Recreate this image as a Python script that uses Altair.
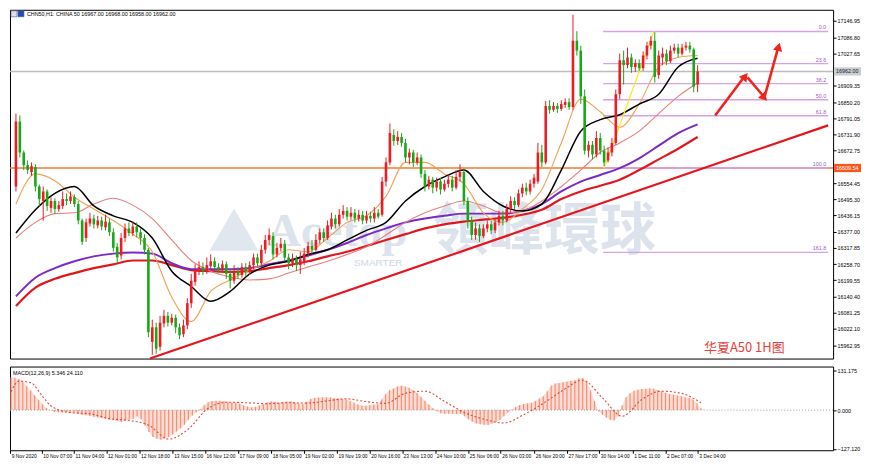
import altair as alt
import pandas as pd

# ---------------- candle data (H1, CHINA 50) ----------------
opens = [16542,16779,16666,16620,16595,16613,16542,16489,16524,16464,
         16489,16460,16471,16496,16489,16503,16478,16418,16354,16407,
         16425,16400,16418,16393,16411,16375,16322,16290,16354,16389,
         16372,16396,16375,16354,16311,15975,16028,15957,16042,16070,
         16045,16063,16028,16003,16035,16116,16194,16230,16248,16233,
         16251,16269,16248,16240,16258,16223,16198,16233,16219,16248,
         16233,16255,16283,16262,16311,16347,16361,16294,16318,16333,
         16283,16262,16279,16255,16269,16297,16325,16311,16347,16375,
         16354,16396,16425,16404,16439,16453,16432,16446,16425,16439,
         16418,16435,16425,16446,16439,16560,16630,16730,16708,16723,
         16701,16648,16666,16630,16648,16588,16542,16567,16538,16560,
         16531,16552,16567,16538,16577,16595,16489,16418,16365,16389,
         16361,16389,16404,16382,16411,16435,16418,16460,16489,16474,
         16517,16538,16524,16552,16560,16666,16630,16836,16822,16836,
         16825,16840,16850,16832,17074,17038,16871,16673,16694,16659,
         16719,16673,16637,16666,16701,16879,17003,16985,17013,16978,
         16992,16974,17020,17056,17074,16949,17013,17027,16999,17038,
         17049,17027,17049,17056,17042,16914]
highs = [16808,16801,16673,16637,16630,16623,16549,16542,16531,16503,
         16499,16489,16524,16517,16524,16513,16489,16425,16425,16446,
         16439,16435,16432,16439,16425,16389,16336,16372,16407,16411,
         16414,16411,16389,16368,16318,16056,16045,16070,16092,16084,
         16077,16074,16042,16056,16134,16223,16258,16269,16265,16283,
         16294,16283,16262,16272,16269,16240,16255,16248,16262,16262,
         16269,16297,16297,16329,16365,16389,16375,16336,16354,16347,
         16297,16297,16290,16304,16318,16340,16347,16368,16389,16389,
         16418,16446,16439,16460,16474,16467,16467,16460,16457,16453,
         16453,16450,16467,16460,16577,16648,16772,16751,16744,16737,
         16716,16680,16676,16666,16659,16602,16581,16577,16574,16574,
         16567,16584,16581,16602,16623,16602,16503,16432,16411,16404,
         16404,16418,16418,16425,16453,16453,16478,16506,16503,16531,
         16552,16556,16567,16588,16701,16694,16854,16857,16850,16847,
         16857,16864,16864,17169,17109,17056,16896,16708,16708,16744,
         16737,16691,16684,16719,16896,17027,17038,17049,17027,17006,
         17006,17035,17070,17091,17105,17038,17049,17042,17056,17063,
         17063,17063,17070,17070,17049,16985]
lows = [16524,16648,16602,16588,16581,16524,16471,16418,16453,16446,
        16443,16450,16460,16474,16478,16467,16404,16329,16340,16396,
        16389,16389,16382,16382,16361,16304,16265,16276,16340,16361,
        16361,16357,16329,16294,15992,15928,15932,15943,16028,16031,
        16035,16006,15985,15992,16021,16099,16180,16219,16219,16223,
        16240,16233,16226,16230,16205,16170,16187,16205,16209,16216,
        16219,16240,16248,16255,16297,16329,16276,16283,16304,16269,
        16240,16248,16233,16223,16255,16283,16297,16304,16333,16340,
        16347,16386,16389,16396,16425,16418,16421,16411,16414,16404,
        16407,16411,16411,16425,16432,16542,16620,16691,16694,16687,
        16630,16623,16613,16620,16574,16524,16531,16517,16524,16513,
        16524,16538,16524,16531,16560,16474,16389,16347,16347,16340,
        16354,16375,16368,16372,16400,16400,16411,16446,16460,16467,
        16503,16510,16513,16538,16552,16613,16623,16808,16815,16811,
        16818,16829,16822,16822,17020,16843,16659,16648,16641,16648,
        16659,16616,16630,16652,16694,16861,16914,16974,16957,16960,
        16964,16964,17006,17042,16921,16935,16985,16985,16992,17027,
        17013,17020,17038,17031,16886,16886]
closes = [16779,16666,16620,16602,16616,16542,16496,16524,16471,16489,
          16460,16474,16496,16489,16506,16478,16418,16340,16411,16425,
          16404,16418,16396,16414,16375,16318,16283,16354,16389,16372,
          16396,16375,16354,16311,16010,16028,15950,16045,16070,16045,
          16063,16028,15999,16035,16116,16198,16233,16248,16233,16255,
          16269,16248,16240,16258,16223,16198,16233,16219,16248,16233,
          16255,16283,16262,16311,16347,16365,16294,16318,16333,16283,
          16262,16279,16255,16276,16297,16325,16311,16347,16375,16354,
          16400,16425,16404,16439,16453,16432,16446,16425,16439,16418,
          16435,16425,16446,16432,16560,16630,16737,16708,16723,16701,
          16648,16666,16630,16648,16588,16542,16567,16538,16560,16531,
          16552,16567,16538,16577,16595,16489,16418,16365,16389,16361,
          16389,16404,16382,16411,16435,16418,16460,16489,16474,16517,
          16538,16524,16552,16574,16666,16630,16836,16822,16836,16825,
          16843,16850,16832,17074,17038,16871,16673,16694,16659,16719,
          16673,16630,16666,16701,16879,17003,16985,17013,16978,16992,
          16974,17020,17056,17074,16942,17020,17027,16999,17038,17049,
          17027,17049,17056,17042,16907,16962]

# ---------------- moving averages (sampled every 5 bars) ----------------
ma_idx = list(range(0, 176, 5))
ma_black = [16372,16457,16517,16542,16471,16435,16411,16354,16233,16177,
            16123,16159,16223,16255,16269,16294,16311,16347,16382,16411,
            16489,16542,16577,16602,16524,16471,16453,16478,16602,16744,
            16786,16804,16843,16879,16978,17010]
ma_orange = [16478,16588,16563,16503,16460,16418,16368,16304,16138,16049,
             16159,16201,16237,16269,16311,16304,16354,16411,16435,16506,
             16630,16630,16588,16552,16446,16411,16460,16531,16701,16861,
             16815,16758,16843,16978,17013,17020]
ma_pink = [16354,16411,16443,16446,16478,16499,16474,16425,16347,16272,
           16233,16212,16201,16205,16226,16248,16269,16294,16322,16365,
           16411,16446,16471,16489,16471,16446,16453,16489,16542,16602,
           16666,16701,16744,16808,16871,16921]
ma_purple = [16141,16209,16244,16269,16287,16297,16301,16297,16262,16240,
             16240,16240,16244,16258,16272,16290,16311,16336,16365,16389,
             16411,16425,16435,16443,16443,16443,16453,16478,16524,16560,
             16584,16609,16645,16691,16737,16769]
ma_red = [16106,16173,16205,16226,16244,16258,16272,16272,16255,16237,
          16233,16230,16233,16244,16255,16269,16287,16304,16325,16347,
          16368,16389,16404,16414,16421,16428,16439,16457,16496,16524,
          16545,16567,16602,16641,16680,16723]

# ---------------- MACD ----------------
macd_hist = [108,106,102,93,78,64,49,34,19,7,
             0,-6,-7,-8,-7,-8,-8,-12,-15,-17,
             -19,-22,-24,-26,-28,-31,-33,-36,-39,-35,
             -31,-28,-20,-30,-50,-72,-88,-94,-97,-93,
             -88,-80,-70,-60,-48,-32,-18,-7,4,16,
             26,30,31,31,29,27,25,24,21,16,
             12,9,11,15,19,25,29,27,24,26,
             28,29,25,21,19,27,36,40,41,42,
             42,41,39,38,36,35,30,24,18,14,
             14,16,18,19,35,52,65,71,77,80,
             77,73,65,56,44,30,18,6,-4,-10,
             -12,-12,-12,-13,-12,-20,-30,-38,-44,-46,
             -48,-49,-44,-38,-32,-20,-8,2,10,17,
             20,22,24,30,38,45,62,80,87,89,
             91,94,96,98,104,105,92,65,30,-4,
             -15,-24,-32,-34,-20,15,42,55,63,67,
             69,70,71,70,66,62,57,53,50,48,
             45,42,40,35,22,5.346]
sig_idx = [0,2,5,8,10,15,20,25,30,35,40,45,50,55,60,65,70,75,80,85,90,95,
           100,105,110,115,120,125,130,135,140,145,150,155,160,165,170,175]
sig_val = [60,95,90,45,15,-8,-12,-28,-34,-50,-95,-62,6,26,24,21,24,23,30,37,28,22,
           55,62,28,-8,-30,-42,-15,22,65,98,40,-20,35,62,55,24.11]

# ---------------- axes ----------------
price_ticks = [17146.95,17086.80,17027.65,16909.35,16850.20,16791.05,16731.90,
               16672.75,16554.45,16495.30,16436.15,16377.00,16317.85,16258.70,
               16199.55,16140.40,16081.25,16022.10,15962.95]
macd_ticks = [131.175, 0.0, -127.12]
time_pos = [-0.2,7.8,16,24.2,32.6,41,49.2,57.6,66,74.2,82.7,91,99.2,107.6,116,
            124.2,132.7,141,149.2,157.7,166,174.2]
time_lbl = ["9 Nov 2020","10 Nov 07:00","11 Nov 04:00","12 Nov 01:00","12 Nov 18:00",
            "13 Nov 15:00","16 Nov 12:00","17 Nov 09:00","18 Nov 05:00","19 Nov 02:00",
            "19 Nov 19:00","20 Nov 16:00","23 Nov 13:00","24 Nov 10:00","25 Nov 06:00",
            "26 Nov 03:00","26 Nov 20:00","27 Nov 17:00","30 Nov 14:00","1 Dec 11:00",
            "2 Dec 07:00","3 Dec 04:00"]

# ---------------- annotations ----------------
fib_names = ["0.0","23.6","38.2","50.0","61.8","100.0","161.8"]
fib_prices = [17108.0,16990.4,16917.6,16858.8,16800.0,16609.5,16301.5]
fib_start, x_end = 150.75, 208.5
yellow_i = [151, 163.75]
yellow_p = [16609.5, 17108.0]
trend_i = [34.4, 208.5]
trend_p = [15914, 16765]
arrow_seg = [1, 1, 2, 2, 3, 3]
arrow_i = [179.5, 186.6, 187.8, 191.7, 192.2, 195.5]
arrow_p = [16801, 16935, 16940, 16875, 16870, 17040]
head_i = [187.2, 192.1, 195.8]
head_p = [16944, 16866, 17052]
head_ang = [37, 136, 16]
last_price = 16962.00
level_price = 16609.54

W, HM, HD = 826, 350, 84
FONT = "Liberation Sans"

xsc = alt.Scale(domain=[-0.25, 208.5], nice=False, zero=False)
ysc = alt.Scale(domain=[15914, 17187], nice=False, zero=False)
msc = alt.Scale(domain=[-131.4, 142.7], nice=False, zero=False)

y_axis = alt.Axis(orient="right", values=price_ticks, format=".2f", title=None,
                  labelFontSize=5.4, labelFont=FONT, tickSize=3, labelPadding=1,
                  domain=False, grid=False, labelColor="#000", tickColor="#000",
                  labelOverlap=False, labelFlush=False)
m_axis = alt.Axis(orient="right", values=macd_ticks, format=".3f", title=None,
                  labelFontSize=5.4, labelFont=FONT, tickSize=3, labelPadding=1,
                  domain=False, grid=False, labelColor="#000", tickColor="#000",
                  labelOverlap=False, labelFlush=False)
lbl_expr = " : ".join(f"datum.value < {p + 2} ? '{l}'" for p, l in zip(time_pos, time_lbl)) + " : ''"
x_axis = alt.Axis(values=time_pos, labelExpr=lbl_expr, title=None, labelAlign="left",
                  labelFontSize=4.9, labelFont=FONT, tickSize=3, labelPadding=0, labelOffset=1,
                  domain=False, grid=False, labelColor="#000", tickColor="#000",
                  labelOverlap=False, labelFlush=False, labelBound=False)


def X(f):
    return alt.X(f, type="quantitative", scale=xsc, axis=None)


def Y(f):
    return alt.Y(f, type="quantitative", scale=ysc, axis=y_axis)


def XM(f):
    return alt.X(f, type="quantitative", scale=xsc, axis=x_axis)


def YM(f):
    return alt.Y(f, type="quantitative", scale=msc, axis=m_axis)


# ---------------- main panel ----------------
df = pd.DataFrame({"i": list(range(len(closes))), "o": opens, "h": highs, "l": lows, "c": closes})
df["dir"] = ["up" if c >= o else "down" for o, c in zip(opens, closes)]
csc = alt.Scale(domain=["up", "down"], range=["#EE1B24", "#17A817"])
col = alt.Color("dir:N", scale=csc, legend=None)

wm = pd.DataFrame({"i": [64.5], "p": [16375], "t": ["Acetop"]})
wm2 = pd.DataFrame({"i": [107.0], "p": [16375], "t": ["領峰環球"]})
wm3 = pd.DataFrame({"i": [93.0], "p": [16262], "t": ["SMARTER"]})
wm4 = pd.DataFrame({"i": [56.0], "p": [16385]})

layers = []
layers.append(alt.Chart(wm4).mark_point(shape="triangle-up", size=2400, filled=True,
                                        color="#B4C2D6", opacity=0.4).encode(x=X("i"), y=Y("p")))
layers.append(alt.Chart(wm).mark_text(font="Liberation Serif", fontSize=47, fontWeight="bold",
                                      color="#AEBDD2", opacity=0.42, align="left", baseline="middle")
              .encode(x=X("i"), y=Y("p"), text="t:N"))
layers.append(alt.Chart(wm2).mark_text(font="Noto Sans CJK TC", fontSize=56, fontWeight="bold",
                                       color="#AEBDD2", opacity=0.42, align="left", baseline="middle")
              .encode(x=X("i"), y=Y("p"), text="t:N"))
layers.append(alt.Chart(wm3).mark_text(font=FONT, fontSize=10, color="#AEBDD2", opacity=0.6,
                                       align="center", baseline="middle")
              .encode(x=X("i"), y=Y("p"), text="t:N"))

hl = pd.DataFrame({"p": [last_price]})
layers.append(alt.Chart(hl).mark_rule(color="#BDBDBD", strokeWidth=1.6).encode(y=Y("p")))
ol = pd.DataFrame({"p": [level_price]})
layers.append(alt.Chart(ol).mark_rule(color="#F47A30", strokeWidth=1.5).encode(y=Y("p")))

fib = pd.DataFrame({"a": [fib_start] * len(fib_prices), "b": [x_end] * len(fib_prices),
                    "p": fib_prices, "n": fib_names})
layers.append(alt.Chart(fib).mark_rule(color="#D7A2EA", strokeWidth=1.4)
              .encode(x=X("a"), x2="b", y=Y("p")))
layers.append(alt.Chart(fib).mark_text(color="#A060C0", fontSize=5.4, font=FONT, align="right",
                                       baseline="bottom", dx=-2, dy=-1)
              .encode(x=X("b"), y=Y("p"), text="n:N"))

ma_df = pd.DataFrame({"i": ma_idx, "black": ma_black, "orange": ma_orange, "pink": ma_pink,
                      "purple": ma_purple, "red": ma_red})
for fld, colr, sw in [("red", "#E0181E", 2.2), ("purple", "#7A2BC4", 2.0),
                      ("pink", "#EC7C7C", 1.1), ("orange", "#F2A050", 1.1), ("black", "#000000", 1.5)]:
    layers.append(alt.Chart(ma_df).mark_line(color=colr, strokeWidth=sw, interpolate="monotone")
                  .encode(x=X("i"), y=Y(fld)))

tr = pd.DataFrame({"i": trend_i, "p": trend_p})
layers.append(alt.Chart(tr).mark_line(color="#E8141C", strokeWidth=2.2).encode(x=X("i"), y=Y("p")))
ye = pd.DataFrame({"i": yellow_i, "p": yellow_p})
layers.append(alt.Chart(ye).mark_line(color="#FFE81A", strokeWidth=1.2).encode(x=X("i"), y=Y("p")))

layers.append(alt.Chart(df).mark_rule(strokeWidth=1).encode(x=X("i"), y=Y("l"), y2="h", color=col))
layers.append(alt.Chart(df).mark_bar(size=2.6).encode(x=X("i"), y=Y("o"), y2="c", color=col))

ar = pd.DataFrame({"s": arrow_seg, "i": arrow_i, "p": arrow_p})
layers.append(alt.Chart(ar).mark_line(color="#F0241C", strokeWidth=2.6)
              .encode(x=X("i"), y=Y("p"), detail="s:N"))
hd = pd.DataFrame({"i": head_i, "p": head_p, "a": head_ang})
layers.append(alt.Chart(hd).mark_point(shape="triangle-up", size=90, filled=True, color="#F0241C", opacity=1)
              .encode(x=X("i"), y=Y("p"), angle=alt.Angle("a:Q", scale=None)))

# price boxes on the right axis
for price, fill, txtc in [(last_price, "#C9CED6", "#222222"), (level_price, "#F8561E", "#FFFFFF")]:
    bx = pd.DataFrame({"p": [price], "t": ["%.2f" % price], "top": [price + 15], "bot": [price - 15]})
    layers.append(alt.Chart(bx).mark_rect(color=fill).encode(
        x=alt.value(W + 1), x2=alt.value(W + 28), y=Y("top"), y2="bot"))
    layers.append(alt.Chart(bx).mark_text(fontSize=5.4, font=FONT, align="left", baseline="middle",
                                          color=txtc).encode(x=alt.value(W + 3), y=Y("p"), text="t:N"))

ttl = pd.DataFrame({"t": ["CHN50,H1:  CHINA 50  16967.00 16968.00 16958.00 16962.00"]})
layers.append(alt.Chart(ttl).mark_text(fontSize=5.4, font=FONT, align="left", baseline="middle", color="#000")
              .encode(x=alt.value(17), y=alt.value(4), text="t:N"))
for x0, fill in [(1, "#E6DCE4"), (8, "#2A48A8")]:
    ic = pd.DataFrame({"x": [x0], "x2": [x0 + 6]})
    layers.append(alt.Chart(ic).mark_rect(color=fill, stroke="#4060B0", strokeWidth=0.6).encode(
        x=alt.X("x:Q", scale=None, axis=None), x2="x2:Q", y=alt.value(1), y2=alt.value(7)))
cn = pd.DataFrame({"t": ["华夏A50 1H图"], "i": [187.0], "p": [15952]})
layers.append(alt.Chart(cn).mark_text(fontSize=13, font="Noto Sans CJK SC", color="#E8403A",
                                      align="center", baseline="middle")
              .encode(x=X("i"), y=Y("p"), text="t:N"))

main = alt.layer(*layers).properties(width=W, height=HM)

# ---------------- MACD panel ----------------
mdf = pd.DataFrame({"i": list(range(len(macd_hist))), "v": macd_hist, "z": [0] * len(macd_hist)})
sdf = pd.DataFrame({"i": sig_idx, "v": sig_val})
zdf = pd.DataFrame({"z": [0]})
mlab = pd.DataFrame({"t": ["MACD(12,26,9) 5.346 24.110"]})

macd = alt.layer(
    alt.Chart(mdf).mark_area(color="#FBD2C6", opacity=0.75).encode(x=XM("i"), y=YM("v"), y2="z"),
    alt.Chart(mdf).mark_rule(color="#F29077", strokeWidth=1.2).encode(x=XM("i"), y=YM("v"), y2="z"),
    alt.Chart(zdf).mark_rule(color="#9A9A9A", strokeDash=[1, 2], strokeWidth=1).encode(y=YM("z")),
    alt.Chart(sdf).mark_line(color="#E5483C", strokeDash=[2, 2], strokeWidth=1.1,
                             interpolate="monotone").encode(x=XM("i"), y=YM("v")),
    alt.Chart(mlab).mark_text(fontSize=5.4, font=FONT, align="left", baseline="middle", color="#000")
    .encode(x=alt.value(3), y=alt.value(6), text="t:N"),
).properties(width=W, height=HD)

chart = alt.vconcat(main, macd, spacing=2).properties(
    padding={"left": 0, "top": 0, "right": 0, "bottom": 0}, background="white"
).configure_view(stroke="#000000", strokeWidth=1)

chart.save("out.html", embed_options={"renderer": "svg", "actions": False})
